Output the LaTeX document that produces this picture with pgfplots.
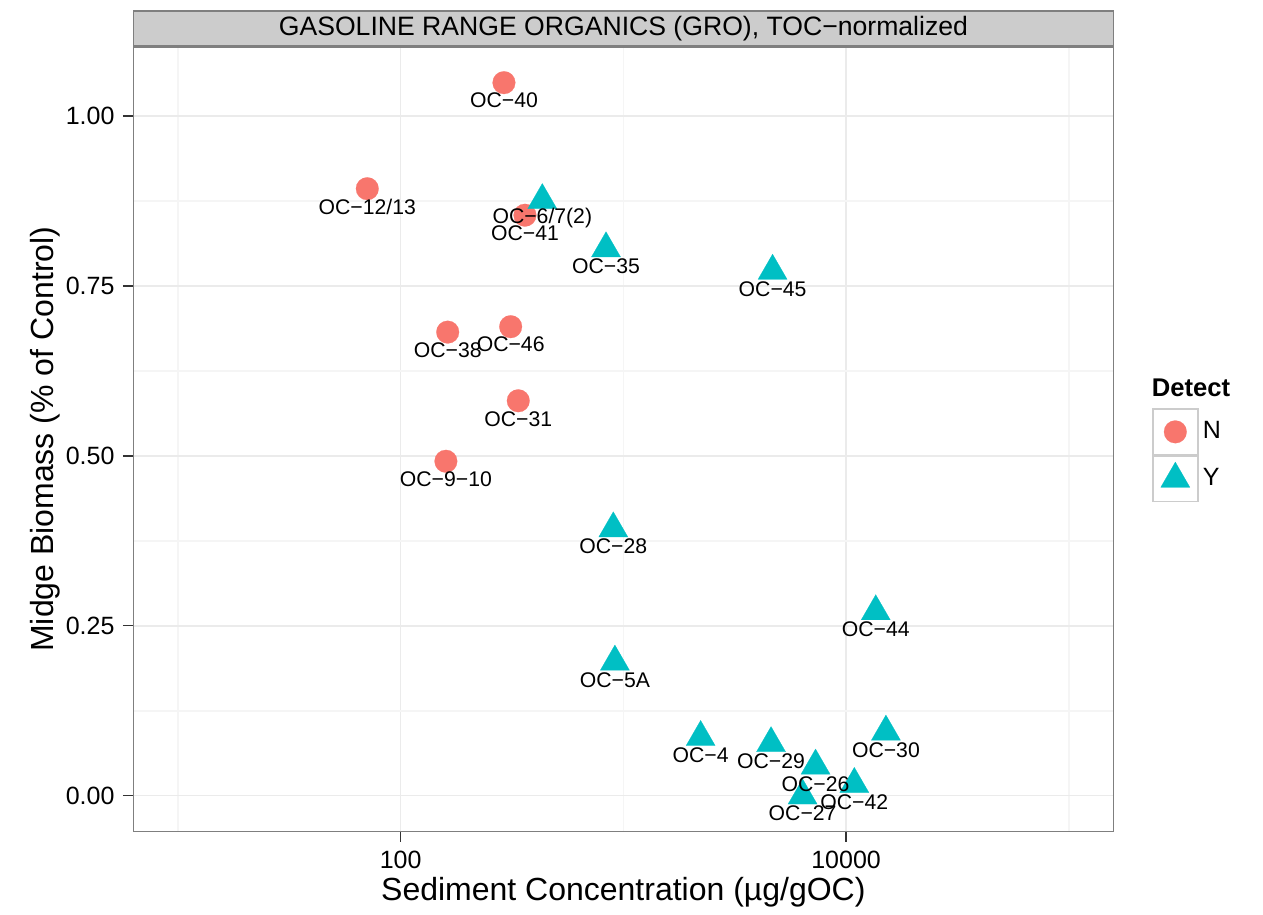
\documentclass[border=0pt]{standalone}
\usepackage{pgfplots}
\usepackage{pgfplotstable}
\pgfplotsset{compat=1.18}
\usepackage{fontspec}
\setmainfont{Liberation Sans}

\definecolor{detN}{HTML}{F8766D}
\definecolor{detY}{HTML}{00BFC4}
\definecolor{grey20}{HTML}{333333}
\definecolor{grey50}{HTML}{7F7F7F}
\definecolor{grey80}{HTML}{CCCCCC}
\definecolor{gridmaj}{HTML}{EBEBEB}
\definecolor{gridmin}{HTML}{F5F5F5}

% legend key: grey-bordered square with the mark in the middle
\pgfplotsset{keyimg/.style={legend image code/.code={
  \draw[grey80, line width=0.9pt, fill=white] (-11.3pt,-11.3pt) rectangle (11.3pt,11.3pt);
  \draw[mark repeat=2,mark phase=2,##1] plot coordinates {(-1pt,0pt) (0pt,0pt) (1pt,0pt)};}}}

% Detect = N
\pgfplotstableread{
x y lab
290.9 1.049 OC−40
70.8 0.893 OC−12/13
361.5 0.854 OC−41
162.6 0.682 OC−38
311.8 0.690 OC−46
337.3 0.581 OC−31
159.6 0.492 OC−9−10
}\tabN

% Detect = Y
\pgfplotstableread{
x y lab
432.5 0.876 OC−6/7(2)
835.6 0.805 OC−35
4677 0.772 OC−45
901 0.393 OC−28
13590 0.271 OC−44
916 0.197 OC−5A
2223 0.086 OC−4
4603 0.077 OC−29
15100 0.094 OC−30
7294 0.044 OC−26
10890 0.017 OC−42
6380 0.000 OC−27
}\tabY

\begin{document}
\begin{tikzpicture}
\begin{axis}[
  scale only axis, width=489.95pt, height=392.2pt,
  xmode=log,
  xmin=6.3096, xmax=158489,
  ymin=-0.0525, ymax=1.1015,
  xtick={100,10000}, xticklabels={100,10000},
  minor xtick={10,1000,100000},
  ytick={0,0.25,0.5,0.75,1}, yticklabels={0.00,0.25,0.50,0.75,1.00},
  minor ytick={0.125,0.375,0.625,0.875},
  grid=both,
  major grid style={gridmaj, line width=0.8pt},
  minor grid style={gridmin, line width=0.8pt},
  axis line style={grey50, line width=0.8pt},
  tick align=outside, tick pos=left,
  major tick length=5.3pt, minor tick length=0pt,
  major tick style={grey20, line width=0.7pt},
  ticklabel style={font=\fontsize{12.5}{14}\selectfont, inner sep=0pt},
  xticklabel style={anchor=north, yshift=-4.5pt},
  yticklabel style={anchor=east, xshift=-4pt},
  xlabel={Sediment Concentration (µg/gOC)},
  ylabel={Midge Biomass (\% of Control)},
  label style={font=\fontsize{16}{19}\selectfont},
  xlabel style={at={(axis description cs:0.5,-0.0887)}, anchor=base},
  ylabel style={at={(axis description cs:-0.0818,0.5)}, anchor=base},
  title={GASOLINE RANGE ORGANICS (GRO), TOC−normalized},
  title style={at={(axis description cs:0.5,1)}, anchor=south, yshift=-6pt,
    fill=grey80, draw=grey50, line width=0.8pt, minimum width=489.95pt,
    minimum height=17.5pt, inner sep=0pt, font=\fontsize{13.3}{15}\selectfont},
  legend style={at={(axis description cs:1.0389,0.5398)}, anchor=north west,
    draw=none, fill=none, inner sep=0pt, row sep=0pt, column sep=2pt,
    nodes={inner sep=0pt}, font=\fontsize{12.5}{15}\selectfont},
  legend cell align=left,
]
\addplot[only marks, mark=*, mark size=5.67pt, color=detN,
  mark options={fill=detN, draw=detN, line width=0.1pt}, keyimg]
  table[x=x, y=y] {\tabN};
\addlegendentry{N}
\addplot[only marks, mark=triangle*, mark size=8.4pt, color=detY,
  mark options={fill=detY, draw=detY, line width=0.1pt}, keyimg]
  table[x=x, y=y] {\tabY};
\addlegendentry{Y}

% point labels, drawn over all markers
\addplot[forget plot, draw=none, mark=none, nodes near coords, point meta=explicit symbolic,
  every node near coord/.append style={text=black, anchor=center, yshift=-9pt,
    inner sep=0pt, font=\fontsize{10.6}{12}\selectfont}]
  table[x=x, y=y, meta=lab] {\tabN};
\addplot[forget plot, draw=none, mark=none, nodes near coords, point meta=explicit symbolic,
  every node near coord/.append style={text=black, anchor=center, yshift=-9pt,
    inner sep=0pt, font=\fontsize{10.6}{12}\selectfont}]
  table[x=x, y=y, meta=lab] {\tabY};

\coordinate (legT) at (axis description cs:1.0389,0.5653);
\coordinate (pSW) at (rel axis cs:0,0);
\coordinate (pNE) at (rel axis cs:1,1);
\end{axis}
\node[anchor=west, inner sep=0pt, font=\bfseries\fontsize{12.8}{15}\selectfont]
  at (legT) {Detect};
\path ([shift={(-66.73pt,-41.3pt)}]pSW) rectangle ([shift={(74.85pt,23.5pt)}]pNE);
\end{tikzpicture}
\end{document}
